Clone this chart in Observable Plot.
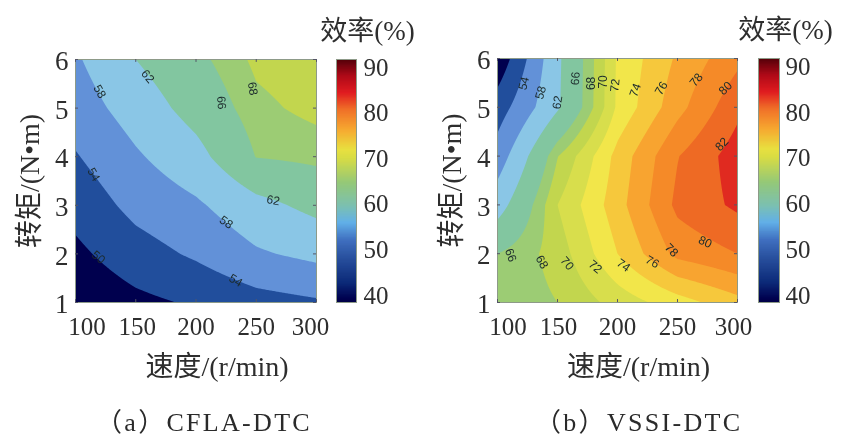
<!DOCTYPE html>
<html><head><meta charset="utf-8">
<script src="https://cdn.jsdelivr.net/npm/d3@7"></script>
<script src="https://cdn.jsdelivr.net/npm/@observablehq/plot@0.6"></script>
<style>
html,body{margin:0;padding:0;background:#fff}
#page{position:relative;width:851px;height:447px;overflow:hidden;filter:blur(0.55px);font-family:"Liberation Serif","Noto Sans CJK SC",serif;color:#2a2a2a}
#page svg{position:absolute;background:transparent;overflow:visible}
.cap{position:absolute;font-size:26px;letter-spacing:2.3px;white-space:nowrap;line-height:30px}
</style></head><body><div id="page"></div>
<script>
const speeds=[100,150,200,250,300];
const torques=[1,2,3,4,5,6];
// efficiency by speed column, torque 1..6
const effA100=[46.8,49.1,51.4,53.7,56.0,57.5];
const effA150=[49.0,52.3,55.2,57.5,59.8,62.0];
const effA200=[50.5,54.6,57.4,60.7,63.5,65.2];
const effA250=[52.5,57.5,60.8,66.1,67.4,68.5];
const effA300=[53.5,59.0,63.1,66.7,68.7,69.5];
const effB100=[66.5,66.0,60.3,55.8,52.0,47.0];
const effB150=[68.0,68.9,70.0,67.9,61.5,61.3];
const effB200=[70.8,74.0,75.2,74.7,72.4,72.3];
const effB250=[73.1,78.6,80.5,79.9,77.3,76.3];
const effB300=[75.3,80.0,82.4,83.0,81.5,79.5];
const levels=[30,50,54,58,62,66,68,70,72,74,76,78,80,82];
const bandColors=["#00004e","#214e9c","#6291d8","#8ac6e6","#82c6a0","#9ccc74","#c2d64e","#d8de4c","#f2e64a","#f6c83c","#f8a430","#f58a28","#ee6a24","#e02a20"];
const barStops=[39,42.6,48.3,52,55.8,59.5,64.5,70,71.8,76.2,80.6,84.3,87.9,92];
const barColors=["#00004e","#0c2a78","#2a52a0","#4070c0","#62b0e8","#7cc0b0","#94c878","#d8dc44","#e8e040","#f6a830","#f07028","#e01c20","#b00a18","#4a0008"];
const barTicks=[40,50,60,70,80,90];
const labelsAX=[120,115,119,160,221,247,264,225,233];
const labelsAY=[5.34,3.63,1.93,5.65,5.11,5.4,3.1,2.65,1.45];
const labelsAT=["58","54","50","62","66","68","62","58","54"];
const labelsAR=[60,60,40,50,85,80,10,35,30];
const labelsBX=[122,136,150,165,178,188,198,215,236.5,265.6,290,287,111,137,158,181.5,205,229,245,273];
const labelsBY=[5.49,5.3,5.1,5.59,5.49,5.52,5.45,5.35,5.39,5.56,5.39,4.24,1.97,1.83,1.8,1.73,1.76,1.83,2.07,2.24];
const labelsBT=["54","58","62","66","68","70","72","74","76","78","80","82","66","68","70","72","74","76","78","80"];
const labelsBR=[-75,-75,-80,-85,-90,-90,-85,-70,-60,-50,-45,-45,70,60,50,40,35,30,45,25];
const font='"Liberation Serif","Noto Sans CJK SC",serif';
const ink="#2e2e2e";
const grid=cols=>speeds.flatMap((s,i)=>torques.map((t,j)=>({s,t,z:cols[i][j]})));
const zip=(X,Y,T,R)=>X.map((x,i)=>({x,y:Y[i],t:T[i],r:R[i]}));
// contour interpolation across the measured grid, cell by cell
function gridInterpolate(I,w,h,X,Y,V){
  const xs=[...new Set(Array.from(I,i=>X[i]))].sort(d3.ascending);
  const ys=[...new Set(Array.from(I,i=>Y[i]))].sort(d3.ascending);
  const at=new Map();for(const i of I)at.set(X[i]+"|"+Y[i],V[i]);
  const out=new Float64Array(w*h);
  const cell=(a,v)=>Math.max(0,Math.min(a.length-2,d3.bisectRight(a,v)-1));
  for(let py=0;py<h;py++)for(let px=0;px<w;px++){
    const cx=px+.5,cy=py+.5,a=cell(xs,cx),b=cell(ys,cy);
    const u=(cx-xs[a])/(xs[a+1]-xs[a]),v=(cy-ys[b])/(ys[b+1]-ys[b]);
    const g=(p,q)=>at.get(xs[p]+"|"+ys[q]);
    out[py*w+px]=(1-u)*(1-v)*g(a,b)+u*(1-v)*g(a+1,b)+(1-u)*v*g(a,b+1)+u*v*g(a+1,b+1);
  }
  return out;
}
const page=document.getElementById("page");
function place(svg,left,top){svg.style.left=left+"px";svg.style.top=top+"px";page.appendChild(svg);}
function panel(cols,labs,left,top,frameW,frameH,nudges){
  const tickX=speeds.map((v,i)=>Plot.axisX({ticks:[v],tickSize:0,tickPadding:15,dx:nudges[i],fontSize:25,fontFamily:font,label:null,color:ink,tickFormat:d=>d}));
  const svg=Plot.plot({width:75+frameW+25,height:59+frameH+80,marginLeft:75,marginRight:25,marginTop:59,marginBottom:80,
    style:{background:"transparent"},
    x:{domain:[100,300]},y:{domain:[1,6]},
    color:{type:"linear",domain:levels,range:bandColors,interpolate:"rgb"},
    marks:[
      Plot.contour(grid(cols),{x:"s",y:"t",fill:"z",interpolate:gridInterpolate,thresholds:levels,pixelSize:1}),
      Plot.frame({stroke:"#8d9a88"}),
      Plot.ruleX(speeds,{x:d=>d,y1:1,y2:1.06,stroke:"#556"}),
      Plot.ruleX(speeds,{x:d=>d,y1:5.94,y2:6,stroke:"#556"}),
      Plot.ruleY(torques,{y:d=>d,x1:100,x2:102.5,stroke:"#556"}),
      Plot.ruleY(torques,{y:d=>d,x1:297.5,x2:300,stroke:"#556"}),
      Plot.text(labs,{x:"x",y:"y",text:"t",rotate:"r",fontSize:12,fontFamily:'"Liberation Sans",sans-serif',fill:"#1c2b2c"}),
      ...tickX,
      Plot.axisY({ticks:torques,tickSize:0,tickPadding:7,dy:2,fontSize:27,fontFamily:font,label:null,color:ink,tickFormat:d=>d}),
      Plot.text(["速度/(r/min)"],{frameAnchor:"bottom",dx:21,dy:65,lineAnchor:"middle",fontSize:28,fontFamily:font,fill:ink}),
      Plot.text(["转矩/(N•m)"],{frameAnchor:"left",textAnchor:"middle",dx:-45,dy:0,rotate:-90,fontSize:28,fontFamily:font,fill:ink})
    ]});
  place(svg,left,top);
}
function bar(left,top,frameW,frameH,titleDx,pad){
  const steps=d3.range(38.5,91.8,0.25);
  const svg=Plot.plot({width:26+frameW+70,height:59+frameH+20,marginLeft:26,marginRight:70,marginTop:59,marginBottom:20,
    style:{background:"transparent"},
    x:{domain:[0,1],axis:null},y:{domain:[38.5,91.8]},
    color:{type:"linear",domain:barStops,range:barColors,interpolate:"rgb"},
    marks:[
      Plot.rect(steps,{x1:0,x2:1,y1:d=>d,y2:d=>Math.min(91.8,d+0.5),fill:d=>d}),
      Plot.frame({stroke:"#8d9a88"}),
      Plot.axisY({anchor:"right",ticks:barTicks,tickSize:0,tickPadding:pad,fontSize:25,fontFamily:font,label:null,color:ink}),
      Plot.text(["效率(%)"],{frameAnchor:"top",dx:titleDx,dy:-28,lineAnchor:"middle",fontSize:27,fontFamily:font,fill:ink})
    ]});
  place(svg,left,top);
}
panel([effA100,effA150,effA200,effA250,effA300],zip(labelsAX,labelsAY,labelsAT,labelsAR),0,0,241,243,[11.5,1.5,0,0,-6]);
bar(310,0,20,243,21,7);
panel([effB100,effB150,effB200,effB250,effB300],zip(labelsBX,labelsBY,labelsBT,labelsBR),422,-1,240,244,[10.5,1,0,0,-4]);
bar(732,-1,21,244,16.5,6);
for(const [txt,l] of [["（a）CFLA-DTC",96],["（b）VSSI-DTC",535]]){
  const d=document.createElement("div");d.className="cap";d.textContent=txt;d.style.left=l+"px";d.style.top="408px";page.appendChild(d);
}
</script></body></html>
